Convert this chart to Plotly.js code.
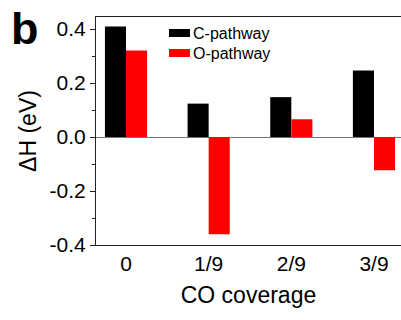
<!DOCTYPE html>
<html>
<head>
<meta charset="utf-8">
<script src="https://cdn.plot.ly/plotly-3.0.1.min.js"></script>
<style>html,body{margin:0;padding:0;background:#fff;}#chart{width:401px;height:320px;}</style>
</head>
<body>
<div id="chart"></div>
<script>
// Data
const categories = ["0", "1/9", "2/9", "3/9"];
const seriesNames = ["C-pathway", "O-pathway"];
const cPathway = [0.41, 0.124, 0.148, 0.247];
const oPathway = [0.321, -0.36, 0.066, -0.123];
const yTickVals = [-0.4, -0.2, 0.0, 0.2, 0.4];
const yTickText = ["-0.4", "-0.2", "0.0", "0.2", "0.4"];
const xTitle = "CO coverage";
const yTitle = "ΔH (eV)";
const panelLabel = "b";

const FONT = "Liberation Sans, Arial, Helvetica, sans-serif";
const xIdx = categories.map((_, i) => i);

const traces = [
  {type: "bar", name: seriesNames[0], x: xIdx, y: cPathway,
   marker: {color: "#000000", line: {width: 0}}, showlegend: false},
  {type: "bar", name: seriesNames[1], x: xIdx, y: oPathway,
   marker: {color: "#ff0000", line: {width: 0}}, showlegend: false}
];

const layout = {
  width: 401, height: 320,
  margin: {l: 96, r: 0, t: 17, b: 75},
  paper_bgcolor: "#fff", plot_bgcolor: "#fff",
  barmode: "group", bargap: 0.49, bargroupgap: 0,
  showlegend: false,
  font: {family: FONT, color: "#000"},
  xaxis: {
    range: [-0.363, 3.327],
    tickvals: xIdx, ticktext: categories,
    ticks: "", showgrid: false, zeroline: false,
    showline: true, linecolor: "#222", linewidth: 1, mirror: true,
    tickfont: {size: 21, family: FONT, color: "#000"},
    title: {text: xTitle, font: {size: 23, family: FONT, color: "#000"}, standoff: 12}
  },
  yaxis: {
    range: [-0.4, 0.445],
    tickvals: yTickVals, ticktext: yTickText,
    ticks: "outside", ticklen: 5, tickwidth: 1, tickcolor: "#222",
    minor: {tickvals: [-0.3, -0.1, 0.1, 0.3], ticks: "outside", ticklen: 3, tickcolor: "#222", showgrid: false},
    showgrid: false,
    zeroline: true, zerolinecolor: "#777", zerolinewidth: 1,
    showline: true, linecolor: "#222", linewidth: 1,
    tickfont: {size: 21, family: FONT, color: "#000"},
    title: {text: yTitle, font: {size: 23, family: FONT, color: "#000"}, standoff: 6}
  },
  shapes: [
    {type: "rect", xref: "paper", yref: "paper", x0: (169-96)/305, x1: (190-96)/305,
     y0: (320-75-37)/228, y1: (320-75-29)/228, fillcolor: "#000", line: {width: 0}},
    {type: "rect", xref: "paper", yref: "paper", x0: (169-96)/305, x1: (190-96)/305,
     y0: (320-75-57)/228, y1: (320-75-49)/228, fillcolor: "#ff0000", line: {width: 0}}
  ],
  annotations: [
    {text: seriesNames[0], xref: "paper", yref: "paper", x: (191-96)/305, y: (320-75-33)/228,
     xanchor: "left", yanchor: "middle", showarrow: false, font: {size: 16, family: FONT, color: "#000"}},
    {text: seriesNames[1], xref: "paper", yref: "paper", x: (191-96)/305, y: (320-75-53)/228,
     xanchor: "left", yanchor: "middle", showarrow: false, font: {size: 16, family: FONT, color: "#000"}},
    {text: "<b>" + panelLabel + "</b>", xref: "paper", yref: "paper", x: -(96-9)/305, y: (320-75-28)/228,
     xanchor: "left", yanchor: "middle", showarrow: false, font: {size: 45, family: FONT, color: "#000"}}
  ]
};

Plotly.newPlot("chart", traces, layout, {staticPlot: true, displayModeBar: false});
</script>
</body>
</html>
